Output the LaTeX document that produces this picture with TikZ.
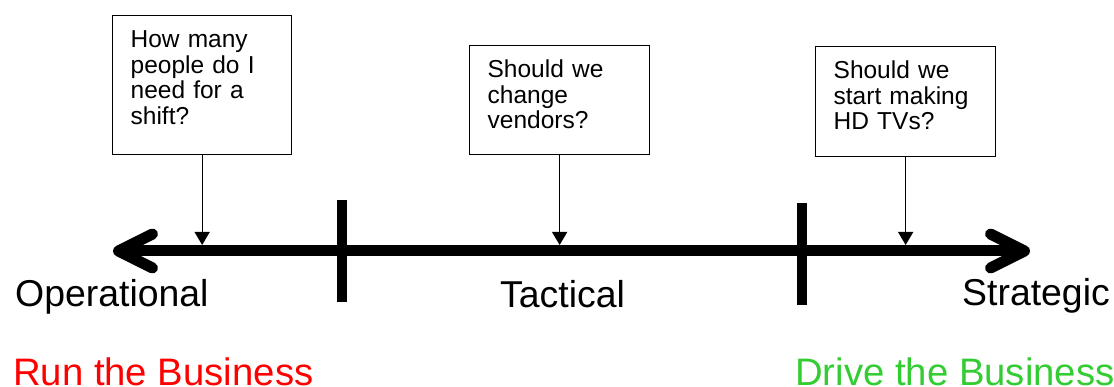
\documentclass[tikz,border=0pt]{standalone}
\usepackage{fontspec}
\setmainfont{Liberation Sans}
\usetikzlibrary{arrows.meta}
\definecolor{runred}{RGB}{255,0,0}
\definecolor{drivegreen}{RGB}{51,204,51}

\begin{document}
\begin{tikzpicture}[x=1pt, y=-1pt,
		qbox/.style={draw, line width=1.3pt, align=left, inner xsep=18pt, inner ysep=0pt,
			text height=32pt, font=\fontsize{24.5}{25.5}\selectfont},
		level/.style={anchor=base west, inner sep=0pt, font=\fontsize{37.4}{40}\selectfont},
		motto/.style={anchor=base west, inner sep=0pt, font=\fontsize{38.3}{42}\selectfont},
		pointer/.style={line width=1.3pt, -{Triangle[length=13pt, width=15pt]}},
		tick/.style={line width=10pt}]
	\useasboundingbox (0,0) rectangle (1114,387);
	%\draw[help lines] (0,0) grid[step=50] (1114,387);
	
	\foreach \n\x\y\tw\d\t in {q1/112/15/143pt/107pt/{How many\\people do I\\need for a\\shift?},
		q2/469/45/144pt/77pt/{Should we\\change\\vendors?},
		q3/815/46/144pt/78pt/{Should we\\start making\\HD TVs?}}
	\node[qbox, anchor=north west, text width=\tw, text depth=\d] (\n) at (\x,\y) {\t};
	
	\coordinate (west) at (113,251);
	\coordinate (east) at (1030,251);
	\coordinate (axtop) at (0,245);
	
	\draw[line width=11pt, {Straight Barb[length=34pt, width=34pt, round]}-{Straight Barb[length=34pt, width=34pt, round]}] (west) -- (east);
	
	\draw[tick] (342,200) -- (342,302);
	\draw[tick] (802,203) -- (802,305);
	
	\foreach \n in {q1,q2,q3}
	\draw[pointer] (\n.south) -- (\n.south |- axtop);
	
	\node[level] (op) at (15,307) {Operational};
	\node[level] (tac) at (500,308) {Tactical};
	\node[level] (str) at (962,306) {Strategic};
	
	\node[motto, text=runred] (run) at (13,385) {Run the Business};
	\node[motto, text=drivegreen] (drive) at (795,385) {Drive the Business};
\end{tikzpicture}
\end{document}
